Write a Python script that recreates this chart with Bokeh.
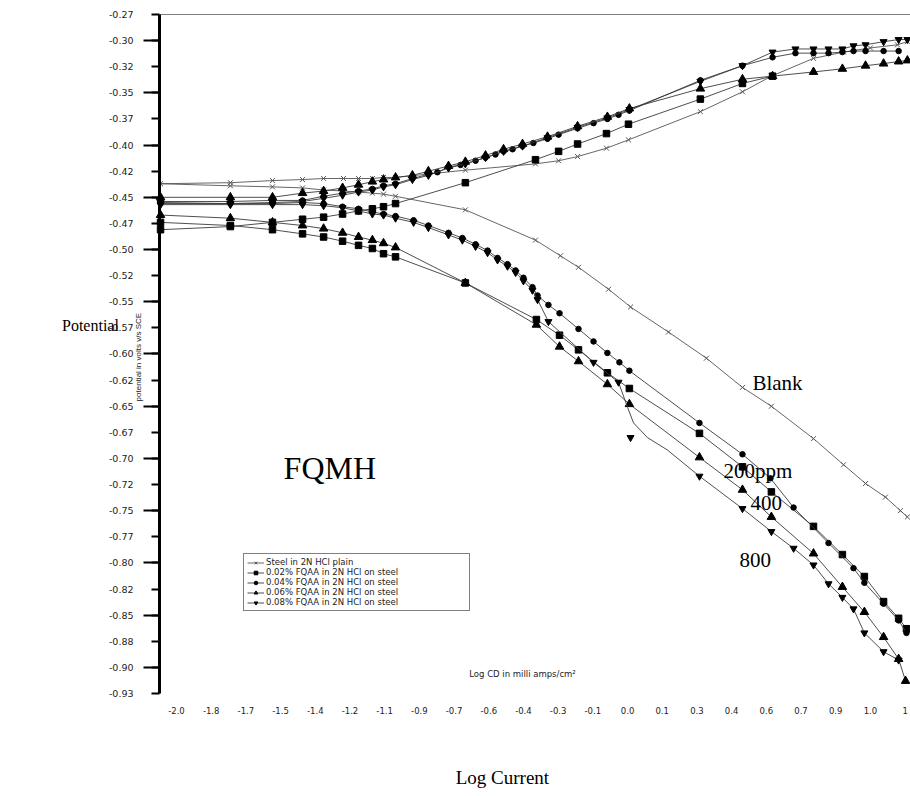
import math
from bokeh.plotting import figure
from bokeh.models import (Range1d, FixedTicker, LinearAxis, Label, Legend, LegendItem,
                          CustomJSTickFormatter)
from bokeh.embed import file_html
from bokeh.resources import INLINE

# ---------------- axis ticks ----------------
x_tick_vals = [-2.0, -1.85, -1.7, -1.55, -1.4, -1.25, -1.1, -0.95, -0.8, -0.65, -0.5,
               -0.35, -0.2, -0.05, 0.1, 0.25, 0.4, 0.55, 0.7, 0.85, 1.0, 1.15]
x_tick_labels = ["-2.0", "-1.8", "-1.7", "-1.5", "-1.4", "-1.2", "-1.1", "-0.9", "-0.7", "-0.6",
                 "-0.4", "-0.3", "-0.1", "0.0", "0.1", "0.3", "0.4", "0.6", "0.7", "0.9", "1.0", "1"]
y_tick_vals = [-0.275, -0.30, -0.325, -0.35, -0.375, -0.40, -0.425, -0.45, -0.475, -0.50,
               -0.525, -0.55, -0.575, -0.60, -0.625, -0.65, -0.675, -0.70, -0.725, -0.75,
               -0.775, -0.80, -0.825, -0.85, -0.875, -0.90, -0.925]
y_tick_labels = ["-0.27", "-0.30", "-0.32", "-0.35", "-0.37", "-0.40", "-0.42", "-0.45", "-0.47",
                 "-0.50", "-0.52", "-0.55", "-0.57", "-0.60", "-0.62", "-0.65", "-0.67", "-0.70",
                 "-0.72", "-0.75", "-0.77", "-0.80", "-0.82", "-0.85", "-0.88", "-0.90", "-0.93"]
y_long_ticks = [-0.30, -0.35, -0.40, -0.45, -0.50, -0.55, -0.60, -0.65, -0.70, -0.75,
                -0.80, -0.85, -0.90]
X_AXIS_SPAN = (-2.0735, 1.1734)
Y_AXIS_SPAN = (-0.925, -0.275)

# ---------------- series (log CD, potential V) ----------------
blank_x = [1.160, 1.130, 1.065, 0.979, 0.884, 0.754, 0.572, 0.447, 0.291, 0.127,
           -0.037, -0.132, -0.262, -0.340, -0.448, -0.751, -1.053, -1.105, -1.153, -1.213,
           -1.278, -1.364, -1.455, -1.585, -1.767, -2.069,
           -1.767, -1.585, -1.455, -1.364, -1.278, -1.213, -1.153, -1.105, -1.053,
           -0.751, -0.448, -0.348, -0.266, -0.141, -0.046, 0.265, 0.447, 0.572, 0.754,
           0.884, 1.000, 1.117, 1.160]
blank_y = [-0.756, -0.750, -0.737, -0.724, -0.706, -0.681, -0.650, -0.632, -0.604, -0.579,
           -0.555, -0.538, -0.517, -0.506, -0.491, -0.462, -0.449, -0.447, -0.446, -0.445,
           -0.444, -0.443, -0.441, -0.440, -0.439, -0.437,
           -0.436, -0.434, -0.433, -0.432, -0.432, -0.432, -0.432, -0.431, -0.431,
           -0.424, -0.418, -0.415, -0.411, -0.403, -0.395, -0.368, -0.349, -0.334, -0.317,
           -0.311, -0.307, -0.304, -0.301]

s02_x = [1.156, 1.122, 1.057, 0.974, 0.879, 0.754, 0.572, 0.447, 0.261, -0.042,
         -0.137, -0.262, -0.344, -0.444, -0.751, -1.053, -1.105, -1.153, -1.213, -1.282,
         -1.364, -1.455, -1.585, -1.767, -2.069,
         -2.069, -1.767, -1.585, -1.455, -1.364, -1.282, -1.213, -1.153, -1.105, -1.053,
         -0.751, -0.448, -0.348, -0.266, -0.141, -0.046, 0.265, 0.447, 0.577]
s02_y = [-0.863, -0.853, -0.837, -0.813, -0.792, -0.765, -0.732, -0.708, -0.676, -0.633,
         -0.618, -0.596, -0.582, -0.567, -0.532, -0.507, -0.504, -0.499, -0.496, -0.492,
         -0.488, -0.485, -0.481, -0.477, -0.474,
         -0.481, -0.478, -0.474, -0.471, -0.469, -0.466, -0.463, -0.461, -0.459, -0.456,
         -0.436, -0.414, -0.406, -0.399, -0.389, -0.380, -0.356, -0.341, -0.334]

s04_x = [1.156, 1.122, 1.057, 0.974, 0.927, 0.819, 0.668, 0.568, 0.447, 0.261,
         -0.042, -0.085, -0.137, -0.197, -0.262, -0.344, -0.392, -0.439, -0.461, -0.500,
         -0.534, -0.569, -0.612, -0.655, -0.707, -0.764, -0.824, -0.911, -0.975, -1.053,
         -1.105, -1.153, -1.213, -1.282, -1.364, -1.455, -1.585, -1.767, -2.069,
         -2.069, -1.767, -1.585, -1.455, -1.364, -1.282, -1.213, -1.153, -1.105, -1.053,
         -0.980, -0.911, -0.872, -0.824, -0.772, -0.707, -0.664, -0.621, -0.586, -0.547,
         -0.504, -0.457, -0.396, -0.348, -0.266, -0.197, -0.137, -0.089, -0.042,
         0.265, 0.447, 0.577, 0.676, 0.754, 0.819, 0.879, 0.927, 0.979, 1.057, 1.122]
s04_y = [-0.867, -0.855, -0.839, -0.819, -0.805, -0.781, -0.747, -0.719, -0.696, -0.666,
         -0.616, -0.608, -0.599, -0.588, -0.576, -0.561, -0.553, -0.544, -0.536, -0.527,
         -0.520, -0.514, -0.508, -0.501, -0.495, -0.489, -0.484, -0.477, -0.472, -0.468,
         -0.466, -0.464, -0.461, -0.459, -0.456, -0.455, -0.456, -0.456, -0.456,
         -0.454, -0.454, -0.453, -0.453, -0.449, -0.446, -0.444, -0.442, -0.439, -0.437,
         -0.432, -0.428, -0.426, -0.421, -0.419, -0.415, -0.412, -0.409, -0.406, -0.404,
         -0.401, -0.398, -0.394, -0.390, -0.384, -0.379, -0.375, -0.371, -0.367,
         -0.338, -0.324, -0.316, -0.312, -0.312, -0.312, -0.311, -0.310, -0.310, -0.310, -0.310]

s06_x = [1.152, 1.122, 1.057, 0.974, 0.879, 0.754, 0.572, 0.447, 0.261, -0.042,
         -0.137, -0.262, -0.344, -0.444, -0.751, -1.053, -1.105, -1.153, -1.213, -1.282,
         -1.364, -1.455, -1.585, -1.767, -2.069,
         -2.069, -1.767, -1.585, -1.455, -1.364, -1.282, -1.213, -1.153, -1.105, -1.053,
         -0.980, -0.911, -0.824, -0.751, -0.664, -0.586, -0.504, -0.396, -0.266, -0.137,
         -0.042, 0.265, 0.447, 0.577, 0.754, 0.879, 0.979, 1.057, 1.122, 1.160]
s06_y = [-0.913, -0.892, -0.871, -0.847, -0.823, -0.791, -0.756, -0.730, -0.699, -0.648,
         -0.629, -0.607, -0.593, -0.572, -0.532, -0.498, -0.494, -0.491, -0.488, -0.484,
         -0.480, -0.477, -0.474, -0.470, -0.467,
         -0.450, -0.450, -0.450, -0.446, -0.444, -0.441, -0.438, -0.435, -0.433, -0.431,
         -0.429, -0.425, -0.420, -0.416, -0.410, -0.404, -0.399, -0.392, -0.382, -0.373,
         -0.365, -0.346, -0.337, -0.334, -0.330, -0.327, -0.324, -0.322, -0.320, -0.319]

# 0.08 %: cathodic tail, a marker-less bend, then the rest of the curve
s08_low_x = [1.122, 1.057, 0.974, 0.927, 0.879, 0.819, 0.754, 0.668, 0.572, 0.447, 0.261]
s08_low_y = [-0.893, -0.885, -0.867, -0.844, -0.833, -0.820, -0.802, -0.786, -0.770, -0.748, -0.717]
s08_bend_x = [0.123, 0.036, -0.024, -0.050]
s08_bend_y = [-0.692, -0.680, -0.666, -0.651]
s08_up_x = [-0.089, -0.197, -0.392, -0.439, -0.461, -0.500, -0.534, -0.569, -0.612, -0.655,
            -0.707, -0.764, -0.824, -0.911, -0.975, -1.053, -1.105, -1.153, -1.213, -1.282,
            -1.364, -1.455, -1.585, -1.767, -2.069,
            -2.069, -1.767, -1.585, -1.455, -1.364, -1.282, -1.213, -1.153, -1.105, -1.053,
            -0.980, -0.911, -0.824, -0.751, -0.664, -0.586, -0.504, -0.396, -0.266, -0.137,
            -0.042, 0.265, 0.447, 0.577, 0.676, 0.754, 0.819, 0.879, 0.927, 0.979,
            1.057, 1.122, 1.160]
s08_up_y = [-0.627, -0.608, -0.569, -0.548, -0.539, -0.530, -0.522, -0.516, -0.510, -0.503,
            -0.497, -0.491, -0.486, -0.479, -0.474, -0.470, -0.467, -0.466, -0.463, -0.460,
            -0.458, -0.457, -0.457, -0.457, -0.457,
            -0.455, -0.456, -0.455, -0.454, -0.451, -0.448, -0.445, -0.443, -0.440, -0.438,
            -0.433, -0.429, -0.422, -0.418, -0.412, -0.406, -0.401, -0.393, -0.383, -0.374,
            -0.366, -0.339, -0.324, -0.311, -0.308, -0.308, -0.308, -0.308, -0.305, -0.304,
            -0.301, -0.299, -0.299]
s08_lone_x = [-0.037]
s08_lone_y = [-0.680]

legend_labels = ["Steel in 2N HCl plain",
                 "0.02% FQAA in 2N HCl on steel",
                 "0.04% FQAA in 2N HCl on steel",
                 "0.06% FQAA in 2N HCl on steel",
                 "0.08% FQAA in 2N HCl on steel"]

# ---------------- figure (frame = whole canvas; axes pinned with fixed_location) -------------
p = figure(width=910, height=796, output_backend="svg", toolbar_location=None,
           x_range=Range1d(-2.7609, 1.1734), y_range=Range1d(-1.0236, -0.2616),
           min_border=0, x_axis_location=None, y_axis_location=None)
p.grid.visible = False
p.outline_line_color = None
p.background_fill_color = "white"
p.border_fill_color = "white"

TICK_FONT = "DejaVu Sans"
SERIF = "Liberation Serif"
fmt_code = """
let best = 0; let bd = 1e9;
for (let i = 0; i < vals.length; i++) { const d = Math.abs(vals[i] - tick); if (d < bd) { bd = d; best = i; } }
return labs[best];
"""

yaxis = LinearAxis(
    fixed_location=X_AXIS_SPAN[0], bounds=Y_AXIS_SPAN,
    ticker=FixedTicker(ticks=y_tick_vals, minor_ticks=y_long_ticks),
    formatter=CustomJSTickFormatter(args=dict(vals=y_tick_vals, labs=y_tick_labels), code=fmt_code),
    axis_line_width=3, axis_line_color="black",
    major_tick_out=8, major_tick_in=0, major_tick_line_width=2, major_tick_line_color="black",
    minor_tick_out=16, minor_tick_in=0, minor_tick_line_width=2, minor_tick_line_color="black",
    major_label_standoff=10, major_label_text_font=TICK_FONT,
    major_label_text_font_size="9.5px", major_label_text_color="#222222")
p.add_layout(yaxis, "left")

xaxis = LinearAxis(
    fixed_location=Y_AXIS_SPAN[0], bounds=X_AXIS_SPAN,
    ticker=FixedTicker(ticks=x_tick_vals),
    formatter=CustomJSTickFormatter(args=dict(vals=x_tick_vals, labs=x_tick_labels), code=fmt_code),
    axis_line_color=None, major_tick_line_color=None, minor_tick_line_color=None,
    major_tick_out=0, major_tick_in=0, minor_tick_out=0, minor_tick_in=0,
    major_label_standoff=13, major_label_text_font=TICK_FONT,
    major_label_text_font_size="8.5px", major_label_text_color="#222222")
p.add_layout(xaxis, "below")

topaxis = LinearAxis(fixed_location=Y_AXIS_SPAN[1], bounds=X_AXIS_SPAN,
                     ticker=FixedTicker(ticks=[]), axis_line_color="#808080", axis_line_width=1,
                     major_tick_line_color=None, minor_tick_line_color=None,
                     major_tick_out=0, major_tick_in=0, minor_tick_out=0, minor_tick_in=0,
                     major_label_standoff=0, major_label_text_font_size="0px")
p.add_layout(topaxis, "above")

LINE = "#3a3a3a"
r_blank_l = p.line(blank_x, blank_y, line_color="#555555", line_width=0.9)
r_blank_m = p.scatter(blank_x, blank_y, marker="x", size=7, line_color="#555555", line_width=1)

r02_l = p.line(s02_x, s02_y, line_color=LINE, line_width=0.9)
r02_m = p.scatter(s02_x, s02_y, marker="square", size=6.5, fill_color="black", line_color="black")

r04_l = p.line(s04_x, s04_y, line_color=LINE, line_width=0.9)
r04_m = p.scatter(s04_x, s04_y, marker="circle", size=5.5, fill_color="black", line_color="black")

r06_l = p.line(s06_x, s06_y, line_color=LINE, line_width=0.9)
r06_m = p.scatter(s06_x, s06_y, marker="triangle", size=8.5, fill_color="black", line_color="black")

r08_l = p.line(s08_low_x + s08_bend_x + s08_up_x, s08_low_y + s08_bend_y + s08_up_y,
               line_color=LINE, line_width=0.9)
r08_m = p.scatter(s08_low_x + s08_up_x, s08_low_y + s08_up_y, marker="inverted_triangle",
                  size=7, fill_color="black", line_color="black")
p.scatter(s08_lone_x, s08_lone_y, marker="inverted_triangle", size=7,
          fill_color="black", line_color="black")

legend = Legend(
    items=[LegendItem(label=legend_labels[0], renderers=[r_blank_l, r_blank_m]),
           LegendItem(label=legend_labels[1], renderers=[r02_l, r02_m]),
           LegendItem(label=legend_labels[2], renderers=[r04_l, r04_m]),
           LegendItem(label=legend_labels[3], renderers=[r06_l, r06_m]),
           LegendItem(label=legend_labels[4], renderers=[r08_l, r08_m])],
    location=(243, 185), margin=0, padding=3, spacing=0,
    glyph_width=17, glyph_height=9, label_height=9, label_width=200, label_standoff=2,
    label_text_font=TICK_FONT, label_text_font_size="8.5px", label_text_color="#222222",
    border_line_color="black", border_line_width=1.5, background_fill_color="white",
    background_fill_alpha=1.0)
p.add_layout(legend)

p.add_layout(Label(x=-1.537, y=-0.709, text="FQMH", text_font=SERIF, text_font_size="32px",
                   text_baseline="alphabetic", text_color="black"))
p.add_layout(Label(x=0.490, y=-0.628, text="Blank", text_font=SERIF, text_font_size="21px",
                   text_baseline="alphabetic", text_color="black"))
p.add_layout(Label(x=0.365, y=-0.712, text="200ppm", text_font=SERIF, text_font_size="21px",
                   text_baseline="alphabetic", text_color="black"))
p.add_layout(Label(x=0.482, y=-0.743, text="400", text_font=SERIF, text_font_size="21px",
                   text_baseline="alphabetic", text_color="black"))
p.add_layout(Label(x=0.434, y=-0.797, text="800", text_font=SERIF, text_font_size="21px",
                   text_baseline="alphabetic", text_color="black"))
p.add_layout(Label(x=-0.504, y=-0.906, text="Log CD in milli amps/cm\u00b2", text_font=TICK_FONT,
                   text_font_size="8.5px", text_align="center", text_baseline="middle",
                   text_color="#222222"))
p.add_layout(Label(x=-2.164, y=-0.603, angle=math.pi / 2,
                   text="potential in volts v/s SCE", text_font="Liberation Sans",
                   text_font_size="8px", text_align="center", text_baseline="middle",
                   text_color="#222222"))
p.add_layout(Label(x=-2.372, y=-0.573, text="Potential",
                   text_font=SERIF, text_font_size="16px", text_align="center",
                   text_baseline="middle", text_color="black"))
p.add_layout(Label(x=-0.591, y=-1.005, text="Log Current",
                   text_font=SERIF, text_font_size="19px", text_align="center",
                   text_baseline="middle", text_color="black"))

open("out.html", "w").write(file_html(p, INLINE))
